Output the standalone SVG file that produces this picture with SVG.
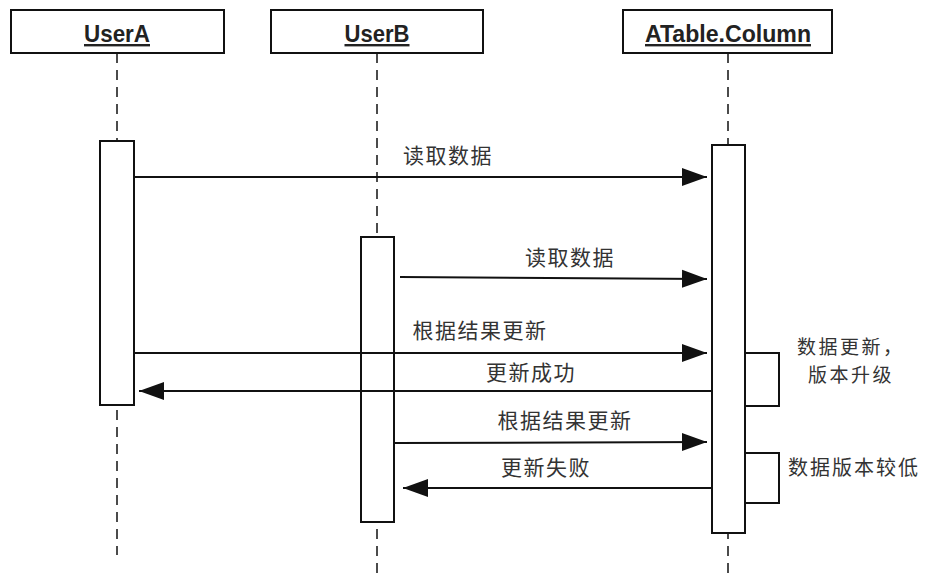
<svg xmlns="http://www.w3.org/2000/svg" width="930" height="576" viewBox="0 0 930 576">
<style>
.hdr{fill:#fff;stroke:#111;stroke-width:2}
.hname{font-family:"Liberation Sans",Arial,sans-serif;font-weight:bold;font-size:24px;fill:#222;text-decoration:underline}
.life{stroke:#111;stroke-width:1.5;stroke-dasharray:10 7;fill:none}
.bar{fill:#fff;stroke:#111;stroke-width:2}
.msg{stroke:#111;stroke-width:2;fill:none}
.lbl{font-family:"Noto Sans CJK SC","Noto Sans",sans-serif;font-size:21px;fill:#333;text-anchor:middle;letter-spacing:1.5px}
.note{font-family:"Noto Sans CJK SC","Noto Sans",sans-serif;font-size:20px;fill:#333;letter-spacing:2px}
.note2{font-family:"Noto Sans CJK SC","Noto Sans",sans-serif;font-size:19px;fill:#333;letter-spacing:2.5px}
</style>
<defs>
<marker id="arr" markerUnits="userSpaceOnUse" markerWidth="26" markerHeight="20" refX="25" refY="10" orient="auto">
<path d="M0,1 L25,10 L0,19 Z" fill="#111"/>
</marker>
</defs>
<rect width="930" height="576" fill="#fff"/>
<g id="lifelines">
<line class="life" x1="117" y1="53" x2="117" y2="555"/>
<line class="life" x1="377" y1="53" x2="377" y2="576"/>
<line class="life" x1="728" y1="53" x2="728" y2="576"/>
</g>
<g id="UserA">
<rect class="hdr" x="11" y="10" width="213" height="43"/>
<text class="hname" x="117" y="42" text-anchor="middle" textLength="66" lengthAdjust="spacingAndGlyphs">UserA</text>
<rect class="bar" x="100" y="141" width="34" height="264"/>
</g>
<g id="UserB">
<rect class="hdr" x="271" y="10" width="212" height="43"/>
<text class="hname" x="377" y="42" text-anchor="middle" textLength="65" lengthAdjust="spacingAndGlyphs">UserB</text>
<rect class="bar" x="361" y="237" width="33" height="285"/>
</g>
<g id="ATable">
<rect class="hdr" x="623" y="10" width="209" height="43"/>
<text class="hname" x="728" y="42" text-anchor="middle" textLength="166" lengthAdjust="spacingAndGlyphs">ATable.Column</text>
<rect class="bar" x="712" y="145" width="33" height="388"/>
</g>
<g id="connectors">
<line class="msg" x1="134" y1="177" x2="707" y2="177" marker-end="url(#arr)"/>
<line class="msg" x1="400" y1="277" x2="707" y2="279" marker-end="url(#arr)"/>
<line class="msg" x1="134" y1="353" x2="707" y2="353" marker-end="url(#arr)"/>
<line class="msg" x1="712" y1="391" x2="139" y2="391" marker-end="url(#arr)"/>
<line class="msg" x1="394" y1="443" x2="707" y2="442" marker-end="url(#arr)"/>
<line class="msg" x1="712" y1="488" x2="403" y2="488" marker-end="url(#arr)"/>
<polyline class="msg" points="745,353 779,353 779,406 745,406"/>
<polyline class="msg" points="745,453 779,453 779,503 745,503"/>
</g>
<g id="labels">
<text class="lbl" x="448" y="163">读取数据</text>
<text class="lbl" x="570" y="265">读取数据</text>
<text class="lbl" x="480" y="338">根据结果更新</text>
<text class="lbl" x="531" y="380">更新成功</text>
<text class="lbl" x="565" y="428">根据结果更新</text>
<text class="lbl" x="546" y="475">更新失败</text>
<text class="note2" x="797" y="354">数据更新，</text>
<text class="note2" x="808" y="382">版本升级</text>
<text class="note" x="788" y="475">数据版本较低</text>
</g>
</svg>
